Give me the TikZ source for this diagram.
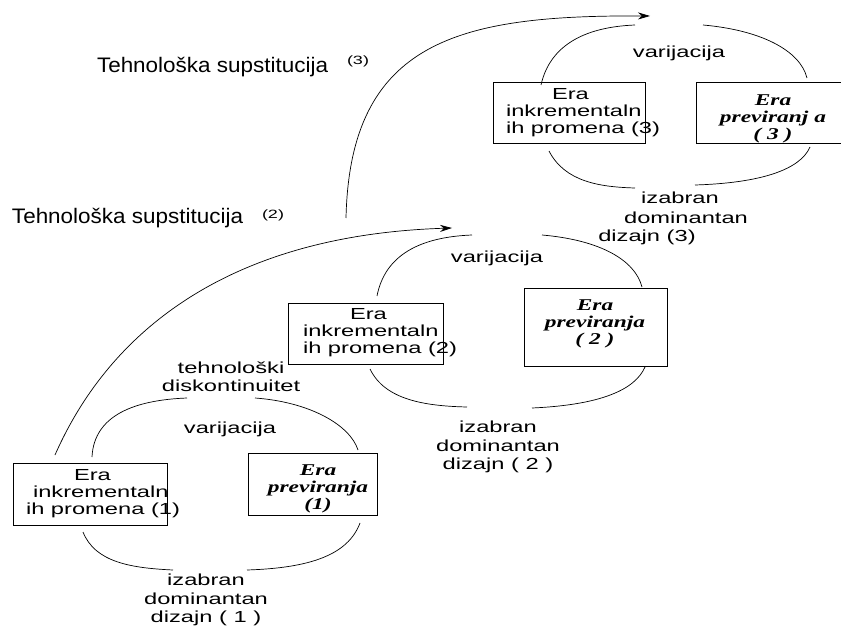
\documentclass[tikz,border=0pt]{standalone}
\usepackage{fontspec}
\setmainfont{Liberation Sans}
\newfontfamily\boxsans[FakeStretch=1.48]{Liberation Sans}
\newfontfamily\boxserif[FakeStretch=1.42]{Liberation Serif}
\newfontfamily\titlefont[FakeStretch=1.07]{Liberation Sans}
\newfontfamily\supfont[FakeStretch=1.5]{Liberation Sans}
\usetikzlibrary{arrows.meta,fit}
\begin{document}
\begin{tikzpicture}[x=1pt,y=-1pt,
  every node/.style={inner sep=0pt, outer sep=0pt},
  frame/.style={draw, line width=0.8pt, inner sep=0pt, fit={#1}},
  sanstxt/.style={font=\boxsans\fontsize{16}{17}\selectfont, align=left, anchor=west},
  lbl/.style={font=\boxsans\fontsize{16}{18.5}\selectfont, align=center},
  sertxt/.style={font=\boxserif\bfseries\itshape\fontsize{16.5}{17}\selectfont, align=center},
  ttl/.style={font=\titlefont\fontsize{21}{24}\selectfont, anchor=base west},
  suptxt/.style={font=\supfont\fontsize{12}{13}\selectfont},
  arcline/.style={line width=0.7pt},
  arr/.style={line width=0.7pt, -{Stealth[length=12pt,width=7pt]}}
]
\useasboundingbox (0,0) rectangle (841,628);

% boxes and their texts
\node[frame={(13,463) (167,525)}] (b1) {};
\node[sanstxt] (t1) at (26,494) {\hspace*{48pt}Era\\\hspace*{7pt}inkrementaln\\ih promena (1)};
\node[frame={(248,453) (377,515)}] (b2) {};
\node[sertxt] (t2) at (318,489) {Era\\previranja\\(1)};

\node[frame={(288,303) (443,364)}] (b3) {};
\node[sanstxt] (t3) at (303,333) {\hspace*{47pt}Era\\inkrementaln\\ih promena (2)};
\node[frame={(524,288) (667,366)}] (b4) {};
\node[sertxt] (t4) at (595,324) {Era\\previranja\\( 2 )};

\node[frame={(493,82) (645,143)}] (b5) {};
\node[sanstxt] (t5) at (506,113) {\hspace*{46pt}Era\\inkrementaln\\ih promena (3)};
\node[frame={(696,82) (852,143)}] (b6) {};
\node[sertxt] (t6) at (773,119) {Era\\previranj a\\( 3 )};

% labels
\node[lbl] (d1) at (231,377) {tehnološki\\diskontinuitet};
\node[lbl] (v1) at (230,429) {varijacija};
\node[lbl] (z1) at (206,600) {izabran\\dominantan\\dizajn ( 1 )};
\node[lbl] (v2) at (497,258) {varijacija};
\node[lbl] (z2) at (498,447) {izabran\\dominantan\\dizajn ( 2 )};
\node[lbl] (v3) at (679,53) {varijacija};
\node[lbl] (z3a) at (680,198) {izabran};
\node[lbl] (z3b) at (686,218) {dominantan};
\node[lbl] (z3c) at (647,237) {dizajn (3)};

% titles
\node[ttl] (s3) at (97,73) {Tehnološka supstitucija};
\node[suptxt] (n3) at (358,61) {(3)};
\node[ttl] (s2) at (12,224) {Tehnološka supstitucija};
\node[suptxt] (n2) at (273,215) {(2)};

% arc end points
\coordinate (c1tl) at (92,457);  \coordinate (c1tm) at (187,398);
\coordinate (c1tn) at (255,398); \coordinate (c1tr) at (358,450);
\coordinate (c1bl) at (83,532);  \coordinate (c1bm) at (173,570);
\coordinate (c1bn) at (247,570); \coordinate (c1br) at (360,523);

\coordinate (c2tl) at (377,296); \coordinate (c2tm) at (472,235);
\coordinate (c2tn) at (542,235); \coordinate (c2tr) at (642,287);
\coordinate (c2bl) at (370,369); \coordinate (c2bm) at (467,407);
\coordinate (c2bn) at (532,408); \coordinate (c2br) at (645,367);

\coordinate (c3tl) at (541,85);  \coordinate (c3tm) at (635,25);
\coordinate (c3tn) at (703,25);  \coordinate (c3tr) at (807,78);
\coordinate (c3bl) at (549,151); \coordinate (c3bm) at (635,188);
\coordinate (c3bn) at (695,185); \coordinate (c3br) at (810,147);

\coordinate (a1s) at (55,455);  \coordinate (a1e) at (452,228);
\coordinate (a2s) at (346,218); \coordinate (a2e) at (650,16);

% cycle 1
\draw[arcline] (c1tl) .. controls (94,415) and (135,400) .. (c1tm);
\draw[arcline] (c1tn) .. controls (310,402) and (350,425) .. (c1tr);
\draw[arcline] (c1bl) .. controls (95,562) and (130,568) .. (c1bm);
\draw[arcline] (c1bn) .. controls (310,568) and (348,555) .. (c1br);
% cycle 2
\draw[arcline] (c2tl) .. controls (385,255) and (420,237) .. (c2tm);
\draw[arcline] (c2tn) .. controls (600,240) and (635,260) .. (c2tr);
\draw[arcline] (c2bl) .. controls (385,400) and (425,406) .. (c2bm);
\draw[arcline] (c2bn) .. controls (600,405) and (635,390) .. (c2br);
% cycle 3
\draw[arcline] (c3tl) .. controls (550,45) and (585,27) .. (c3tm);
\draw[arcline] (c3tn) .. controls (760,30) and (800,50) .. (c3tr);
\draw[arcline] (c3bl) .. controls (565,182) and (600,187) .. (c3bm);
\draw[arcline] (c3bn) .. controls (760,183) and (800,170) .. (c3br);

% substitution arrows
\draw[arr] (a1s) .. controls (110,330) and (230,235) .. (a1e);
\draw[arr] (a2s) .. controls (350,40) and (460,15) .. (a2e);
\end{tikzpicture}
\end{document}
